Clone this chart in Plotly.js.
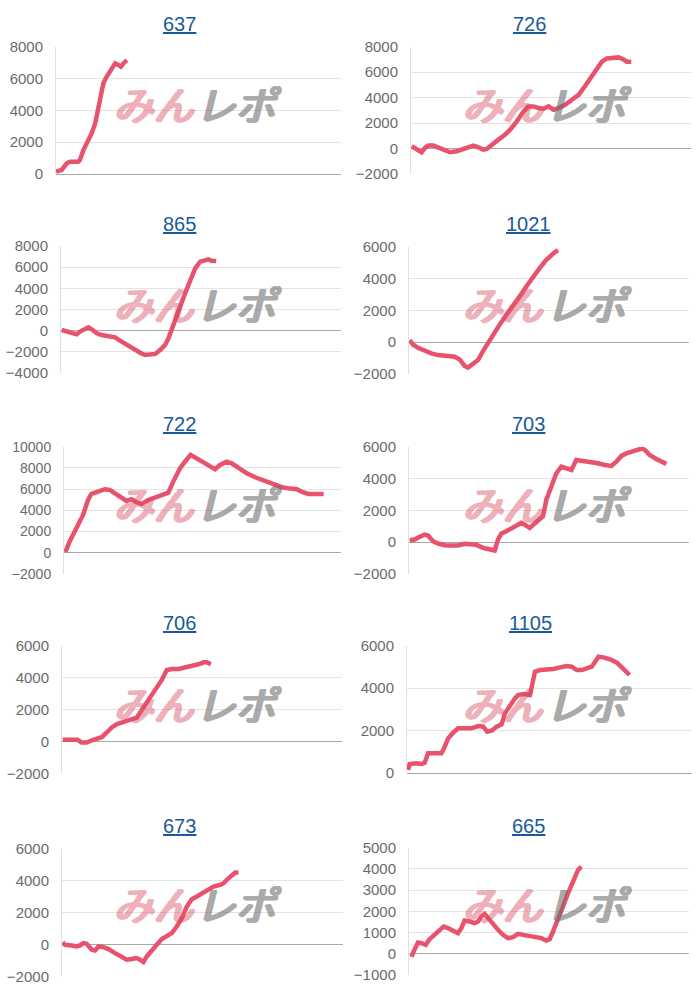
<!DOCTYPE html>
<html>
<head>
<meta charset="utf-8">
<script src="https://cdn.plot.ly/plotly-3.0.1.min.js"></script>
<style>
  html, body { margin: 0; padding: 0; background: #fff; }
</style>
</head>
<body>
<div id="chart" style="width:700px;height:1000px;"></div>
<script>
// machine numbers (chart titles)
const titles = ['637', '726', '865', '1021', '722', '703', '706', '1105', '673', '665'];

// games played / balance
const g637 = [0, 160, 300, 390, 620, 670, 770, 910, 1000, 1100, 1190, 1240, 1330, 1420, 1560, 1660, 1750, 1820, 1890, 1990];
const v637 = [150, 250, 670, 775, 775, 880, 1500, 2140, 2550, 3180, 4230, 4860, 5700, 6110, 6640, 6950, 6850, 6740, 6950, 7160];

const g726 = [19, 162, 305, 400, 496, 639, 782, 925, 1116, 1306, 1497, 1688, 1783, 1926, 2069, 2164, 2307, 2498, 2689, 2832, 3023, 3213, 3357, 3500, 3642, 3786, 3929, 4072, 4214, 4405, 4596, 4787, 4930, 5120, 5311, 5454, 5597, 5788, 5931, 6074, 6169, 6293];
const v726 = [180, -80, -290, 60, 230, 230, 50, -80, -290, -210, -30, 180, 230, 100, -80, -30, 310, 700, 1090, 1480, 2140, 2920, 3310, 3310, 3180, 3125, 3310, 3050, 3180, 3440, 3830, 4220, 4740, 5520, 6300, 6820, 7080, 7160, 7160, 7000, 6820, 6820];

const g865 = [19, 162, 305, 448, 543, 687, 782, 877, 1020, 1163, 1354, 1545, 1688, 1878, 2069, 2260, 2403, 2546, 2689, 2832, 2975, 3070, 3165, 3261, 3404, 3547, 3690, 3833, 3976, 4119, 4214, 4310, 4434];
const v865 = [60, -90, -250, -350, -90, 220, 315, 125, -250, -410, -500, -630, -945, -1350, -1730, -2080, -2300, -2300, -2200, -1830, -1350, -725, 60, 850, 2270, 3530, 4790, 5890, 6520, 6610, 6740, 6610, 6580];

const g1021 = [19, 114, 257, 448, 638, 829, 1019, 1162, 1305, 1448, 1590, 1686, 1829, 1971, 2114, 2257, 2400, 2590, 2781, 2971, 3162, 3352, 3543, 3733, 3924, 4067, 4162, 4257];
const v1021 = [125, -146, -354, -563, -708, -813, -875, -875, -917, -1083, -1500, -1600, -1400, -1125, -563, -42, 480, 1100, 1730, 2250, 2875, 3500, 4125, 4650, 5170, 5480, 5650, 5790];

const g722 = [39, 164, 357, 550, 695, 791, 984, 1177, 1322, 1467, 1660, 1805, 1949, 2094, 2239, 2432, 2625, 2818, 3011, 3156, 3349, 3493, 3657, 3831, 4024, 4217, 4362, 4507, 4700, 4844, 5037, 5279, 5520, 5809, 6051, 6292, 6533, 6726, 6871, 7064, 7257, 7498];
const v722 = [60, 1066, 2320, 3570, 4980, 5550, 5770, 5990, 5920, 5610, 5140, 4890, 5050, 4760, 4610, 4980, 5200, 5450, 5670, 6710, 7960, 8590, 9220, 8900, 8500, 8120, 7870, 8280, 8590, 8430, 7960, 7490, 7120, 6800, 6460, 6180, 6050, 5990, 5740, 5550, 5550, 5550];

const g703 = [19, 162, 305, 448, 543, 686, 829, 1019, 1210, 1400, 1590, 1781, 1924, 2114, 2305, 2448, 2543, 2638, 2781, 2971, 3114, 3210, 3305, 3448, 3590, 3733, 3829, 3924, 4067, 4210, 4352, 4495, 4638, 4781, 4971, 5162, 5400, 5590, 5781, 5924, 6067, 6210, 6400, 6543, 6667, 6762, 6876, 7067, 7210, 7352];
const v703 = [125, 167, 333, 480, 417, 63, -83, -188, -208, -208, -104, -104, -167, -354, -458, -521, 167, 540, 690, 900, 1100, 1210, 1100, 900, 1170, 1460, 1625, 2670, 3600, 4330, 4750, 4650, 4540, 5170, 5125, 5060, 4960, 4850, 4790, 5060, 5420, 5580, 5690, 5830, 5900, 5750, 5480, 5230, 5060, 4920];

const g706 = [19, 181, 324, 439, 563, 706, 849, 992, 1135, 1278, 1421, 1564, 1754, 1945, 2136, 2279, 2470, 2660, 2851, 2994, 3137, 3328, 3518, 3709, 3900, 4043, 4138, 4253];
const v706 = [105, 105, 167, 105, -63, -63, 63, 188, 272, 565, 878, 1087, 1233, 1359, 1505, 1986, 2613, 3240, 3868, 4495, 4558, 4558, 4640, 4745, 4850, 4976, 4976, 4850];

const g1105 = [28, 75, 263, 403, 497, 591, 778, 966, 1060, 1154, 1294, 1435, 1623, 1810, 1998, 2138, 2251, 2373, 2514, 2654, 2748, 2889, 3029, 3123, 3264, 3452, 3592, 3733, 3920, 4108, 4296, 4483, 4624, 4765, 4905, 5046, 5187, 5280, 5374, 5515, 5702, 5890, 6031, 6124, 6246];
const v1105 = [141, 424, 455, 424, 487, 927, 927, 927, 1240, 1633, 1900, 2105, 2105, 2105, 2215, 2183, 1948, 1995, 2183, 2293, 2811, 3204, 3518, 3675, 3722, 3675, 4775, 4853, 4853, 4900, 4979, 5042, 5010, 4853, 4853, 4932, 5010, 5245, 5481, 5450, 5356, 5199, 5010, 4822, 4618];

const g673 = [19, 86, 276, 418, 513, 608, 703, 846, 941, 1036, 1178, 1321, 1511, 1701, 1843, 1986, 2128, 2223, 2318, 2413, 2556, 2698, 2841, 2983, 3126, 3268, 3411, 3553, 3696, 3838, 3981, 4123, 4313, 4503, 4598, 4693, 4836, 4931, 5026];
const v673 = [146, 0, -42, -104, -42, 104, 63, -313, -354, -104, -146, -271, -521, -792, -938, -896, -833, -938, -1083, -729, -313, 0, 354, 521, 729, 1146, 1667, 2396, 2854, 3021, 3229, 3438, 3646, 3750, 3854, 4063, 4313, 4521, 4521];

const g665 = [38, 95, 162, 257, 352, 476, 590, 733, 876, 990, 1114, 1257, 1400, 1495, 1590, 1733, 1876, 1971, 2067, 2162, 2257, 2400, 2543, 2686, 2829, 2971, 3114, 3257, 3400, 3590, 3781, 3924, 4019, 4114, 4257, 4400, 4543, 4686, 4829, 4924];
const v665 = [0, -47, 219, 533, 502, 423, 690, 893, 1097, 1285, 1207, 1082, 972, 1207, 1567, 1520, 1442, 1520, 1755, 1881, 1677, 1411, 1129, 893, 737, 784, 940, 893, 846, 815, 737, 627, 690, 1050, 1599, 2226, 2853, 3401, 3950, 4107];

const games = [g637, g726, g865, g1021, g722, g703, g706, g1105, g673, g665];
const values = [v637, v726, v865, v1021, v722, v703, v706, v1105, v673, v665];

// y axis ranges and tick step per chart
const yRanges = [[0, 8000], [-2000, 8000], [-4000, 8000], [-2000, 6000], [-2000, 10000],
                 [-2000, 6000], [-2000, 6000], [0, 6000], [-2000, 6000], [-1000, 5000]];
const yDticks = [2000, 2000, 2000, 2000, 2000, 2000, 2000, 2000, 2000, 1000];
const gameMax = 8000;

// plot boxes in page pixels: left, right, top, bottom
const boxes = [
  [56, 341, 46.7, 174], [411, 691, 46.7, 174],
  [61, 341, 246, 373], [409, 689, 246.7, 374],
  [64, 341, 446.7, 574], [409, 689, 446.7, 574],
  [62, 342, 646, 773.3], [407, 692, 645.7, 773],
  [62, 343, 849, 976.7], [409, 689, 847.7, 975]
];
const titlePos = [
  [179, 24], [529, 24], [179, 224], [528, 224], [179, 424],
  [528, 424], [180, 623], [530, 623], [180, 826], [528, 826]
];

const W = 700, H = 1000;
const LINE = '#e8526d';
const traces = [];
const layout = {
  width: W, height: H,
  margin: {l: 0, r: 0, t: 0, b: 0},
  paper_bgcolor: '#fff', plot_bgcolor: '#fff',
  showlegend: false,
  font: {family: '"Liberation Sans", Arial, sans-serif', color: '#6b6b6b'},
  annotations: []
};

// heavy blocky logo: thicken the glyphs with a few offset copies
function thick(c) {
  return [[1, 0], [2, 0], [0, 1], [1, 1], [2, 1], [-1, 0]]
    .map(([dx, dy]) => c + ' ' + dx + 'px ' + dy + 'px 0px').join(', ');
}

titles.forEach((t, i) => {
  const n = i + 1;
  const sfx = n === 1 ? '' : String(n);
  const [l, r, top, bot] = boxes[i];

  traces.push({
    x: games[i], y: values[i],
    xaxis: 'x' + sfx, yaxis: 'y' + sfx,
    type: 'scatter', mode: 'lines',
    line: {color: LINE, width: 4.5},
    hoverinfo: 'skip'
  });

  layout['xaxis' + sfx] = {
    domain: [l / W, r / W],
    range: [0, gameMax],
    showgrid: false, zeroline: false, showline: false,
    showticklabels: false, ticks: '',
    anchor: 'y' + sfx
  };
  layout['yaxis' + sfx] = {
    domain: [1 - bot / H, 1 - top / H],
    range: yRanges[i],
    dtick: yDticks[i], tick0: 0, tickformat: 'd',
    showgrid: true, gridcolor: '#e4e4e4', gridwidth: 1,
    zeroline: true, zerolinecolor: '#a8a8a8', zerolinewidth: 1,
    showline: true, linecolor: '#e0e0e0', linewidth: 1,
    ticks: 'outside', ticklen: 9, tickcolor: 'rgba(0,0,0,0)',
    tickfont: {size: i === 4 ? 14 : 15, color: '#6b6b6b'},
    anchor: 'x' + sfx
  };

  // title (underlined link style)
  layout.annotations.push({
    text: '<span style="text-decoration:underline">' + t + '</span>',
    xref: 'paper', yref: 'paper',
    x: titlePos[i][0] / W, y: 1 - titlePos[i][1] / H,
    xanchor: 'center', yanchor: 'middle', showarrow: false,
    font: {size: 20, color: '#1a5a96', family: '"Liberation Sans", Arial, sans-serif'}
  });

  // watermark
  const ox = (i % 2) * 350, oy = Math.floor(i / 2) * 200;
  layout.annotations.push({
    text: '<i>みん</i>',
    xref: 'paper', yref: 'paper',
    x: (ox + 153) / W, y: 1 - (oy + 103) / H,
    xanchor: 'center', yanchor: 'middle', showarrow: false,
    opacity: 0.42,
    font: {size: 40, color: '#d9485c', shadow: thick('#d9485c'), family: '"Noto Sans CJK JP", sans-serif'}
  });
  layout.annotations.push({
    text: '<i>レポ</i>',
    xref: 'paper', yref: 'paper',
    x: (ox + 238) / W, y: 1 - (oy + 103) / H,
    xanchor: 'center', yanchor: 'middle', showarrow: false,
    opacity: 0.58,
    font: {size: 40, color: '#6e6e6e', shadow: thick('#6e6e6e'), family: '"Noto Sans CJK JP", sans-serif'}
  });
});

Plotly.newPlot('chart', traces, layout, {staticPlot: true});
</script>
</body>
</html>
